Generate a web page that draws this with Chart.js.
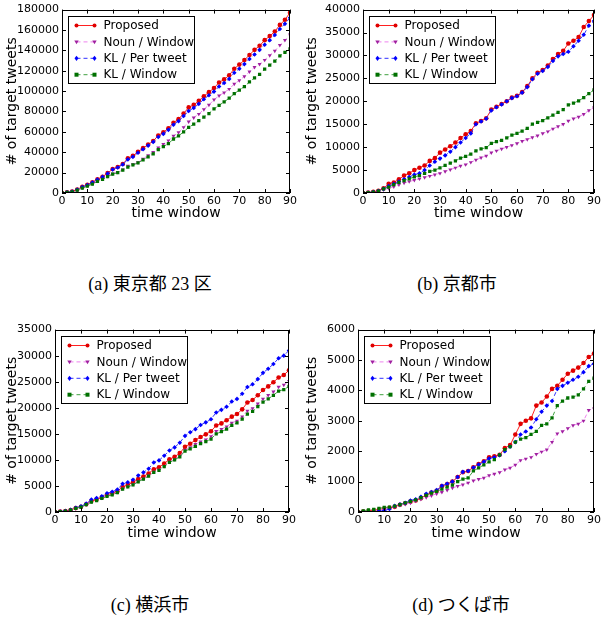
<!DOCTYPE html>
<html>
<head>
<meta charset="utf-8">
<title>target tweets</title>
<script src="https://cdn.jsdelivr.net/npm/chart.js@4/dist/chart.umd.min.js"></script>
<style>
  body { margin: 0; background: #fff; }
  #wrap { position: relative; width: 603px; height: 617px; }
  canvas { position: absolute; }
  .cap { position: absolute; width: 300px; text-align: center; font-family: "Liberation Serif", "Noto Sans CJK JP", serif; font-size: 18px; color: #000; }
</style>
</head>
<body>
<div id="wrap">
  <canvas id="ca" style="left:0px;top:0px" width="300" height="225"></canvas>
  <canvas id="cb" style="left:300px;top:0px" width="303" height="225"></canvas>
  <canvas id="cc" style="left:0px;top:320px" width="300" height="225"></canvas>
  <canvas id="cd" style="left:300px;top:320px" width="303" height="225"></canvas>
  <div class="cap" style="left:0px;top:269px">(a) 東京都 23 区</div>
  <div class="cap" style="left:307px;top:269px">(b) 京都市</div>
  <div class="cap" style="left:0px;top:590px">(c) 横浜市</div>
  <div class="cap" style="left:311px;top:590px">(d) つくば市</div>
</div>

<script>
// time windows (every 2nd window)
var xs = [0,2,4,6,8,10,12,14,16,18,20,22,24,26,28,30,32,34,36,38,40,42,44,46,48,50,52,54,56,58,60,62,64,66,68,70,72,74,76,78,80,82,84,86,88,90];

var seriesNames = ["Proposed", "Noun / Window", "KL / Per tweet", "KL / Window"];

// (a) 東京都 23 区
var aProposed = [0,800,1500,3500,6000,8000,10500,13500,16000,19500,23500,25500,28500,34000,36500,40500,44000,47500,51000,56500,59500,63500,69000,72500,78000,84000,86500,90500,95000,99000,103000,108500,111500,115500,122000,126000,130500,135500,140500,144500,150000,154000,158500,165000,170000,177000];
var aNoun = [0,600,1200,3000,5200,7200,9200,11800,13800,16500,19000,20500,23000,26500,28000,30000,33500,37000,40000,44500,48000,51500,56000,59500,64500,70000,74000,77500,82000,86500,91500,95500,98500,102000,107000,110500,114500,119000,123500,126500,130500,135000,139500,145000,150000,155500];
var aKLTweet = [0,700,1400,3300,5800,7800,10300,13300,15800,19000,23000,25000,28000,33000,35500,39500,43000,46500,50000,55000,58000,62000,67000,70500,75500,80500,83500,87500,92000,96000,99500,104500,108000,112000,118000,122000,126500,131500,136000,140500,145500,150000,155000,161000,166000,172000];
var aKLWindow = [0,600,1200,2800,4800,6800,8800,11300,13300,16000,18500,20000,22500,25500,27500,29500,32500,35500,38500,42500,45500,48500,53000,56000,60000,64500,67500,71000,74500,78000,82500,86000,89500,93000,97500,101000,104500,109000,113000,116500,121500,125500,129500,134500,138000,141500];

// (b) 京都市
var bProposed = [0,100,250,500,1000,2000,2300,3000,3800,4300,5000,5500,6000,7000,7600,8800,9500,10200,11000,12000,12800,13500,15200,15700,16300,18200,18800,19400,20000,20800,21200,22000,23300,25000,26200,26800,27800,29200,30300,31000,32600,33200,34000,36200,37500,38800];
var bNoun = [0,60,150,350,700,1000,1400,1800,2200,2500,2800,3100,3400,3700,4000,4300,4700,5100,5500,5900,6200,6700,7200,7700,8100,8800,9200,9600,10000,10400,10800,11300,11700,12100,12500,13000,13400,14000,14500,15000,15700,16200,16600,17200,18000,18600];
var bKLTweet = [0,80,200,450,900,1500,2000,2500,3000,3500,4000,4300,5000,6000,6800,7500,8200,9000,10000,11000,12000,13000,15000,15600,16200,18000,18700,19300,20000,20700,21100,21900,23100,24800,26000,26600,27500,28800,29800,30300,30800,32000,33200,34500,36500,37500];
var bKLWindow = [0,80,200,400,900,1300,1800,2300,2700,3100,3500,3800,4300,4700,5000,5500,6000,6500,7000,7600,8000,8500,9200,9600,9900,10800,11200,11500,12000,12600,13000,13500,14100,15000,15400,15800,16400,17000,17600,18200,19200,19600,20100,20800,21700,22500];

// (c) 横浜市
var cProposed = [0,70,180,380,750,1000,1500,2100,2400,2800,3300,3600,4000,4800,5200,5700,6300,6800,7400,8200,8600,9300,10100,10600,11300,12500,13100,13800,14400,14900,15500,16600,17000,17600,18300,18800,19700,21000,21500,22400,23400,24100,24900,25800,26300,27200];
var cNoun = [0,60,160,350,700,950,1400,2000,2300,2700,3100,3400,3800,4500,4900,5300,5900,6400,7000,7700,8100,8800,9600,10100,10700,11900,12400,13000,13500,13900,14500,15500,15900,16400,17100,17500,18300,19400,19900,20800,21700,22400,23100,24000,24400,25100];
var cKLTweet = [0,80,200,400,800,1100,1600,2400,2700,3000,3600,3900,4300,5400,5700,6200,7000,7600,8300,9500,9900,10800,11800,12400,13300,14600,15300,15900,16700,17200,17800,19100,19600,20200,21200,21700,22700,24000,24500,25500,26700,27500,28400,29500,30000,31000];
var cKLWindow = [0,60,160,350,700,950,1400,1900,2200,2600,3000,3300,3700,4400,4800,5200,5800,6300,6900,7600,8000,8700,9500,10000,10600,11700,12100,12600,13100,13500,14000,15000,15400,15900,16600,17100,17800,18800,19300,20200,21100,21700,22400,23200,23500,24100];

// (d) つくば市
var dProposed = [0,15,30,50,80,110,140,170,240,290,340,380,450,560,640,700,850,920,1000,1150,1310,1350,1470,1580,1670,1800,1830,1880,2100,2200,2550,2900,3000,3080,3500,3600,3800,4050,4150,4350,4550,4650,4750,4900,5100,5210];
var dNoun = [0,20,40,60,80,100,130,170,220,260,300,360,420,480,540,600,650,720,790,850,900,960,1030,1080,1120,1200,1250,1300,1390,1450,1550,1700,1750,1800,1900,1980,2050,2300,2580,2650,2750,2850,2900,3000,3350,3400];
var dKLTweet = [0,10,15,20,30,40,100,200,250,300,380,420,500,600,660,720,860,930,1000,1150,1320,1350,1460,1560,1650,1760,1800,1870,2000,2150,2300,2550,2650,2780,3050,3300,3500,3650,4050,4150,4250,4350,4450,4600,4800,4880];
var dKLWindow = [0,40,70,90,120,150,160,190,240,300,350,400,470,550,620,680,750,820,880,1000,1080,1120,1350,1450,1550,1650,1720,1880,2050,2150,2300,2400,2450,2550,2650,2850,2900,3100,3500,3650,3750,3780,3850,4050,4300,4400];

// axis limits and tick steps per panel
var yMax = [180000, 40000, 35000, 6000];
var yStep = [20000, 5000, 5000, 1000];
var xMax = 90;
var xStep = 10;

var styles = [
  { line: "#ff2020", point: "#e00000", shape: "circle", rot: 0, dash: [] },
  { line: "#ee82ee", point: "#a020a0", shape: "triangle", rot: 180, dash: [4, 3] },
  { line: "#3030ff", point: "#0000ff", shape: "rectRot", rot: 0, dash: [4, 3] },
  { line: "#40a040", point: "#007000", shape: "rect", rot: 0, dash: [4, 3] }
];

var FONT = "'DejaVu Sans', 'Bitstream Vera Sans', sans-serif";

function marker(ctx, shape, x, y, r) {
  ctx.beginPath();
  if (shape === "circle") {
    ctx.arc(x, y, r, 0, Math.PI * 2);
  } else if (shape === "triangle") {
    ctx.moveTo(x - r * 1.1, y - r * 0.7);
    ctx.lineTo(x + r * 1.1, y - r * 0.7);
    ctx.lineTo(x, y + r * 1.2);
    ctx.closePath();
  } else if (shape === "rectRot") {
    ctx.moveTo(x, y - r * 1.3);
    ctx.lineTo(x + r, y);
    ctx.lineTo(x, y + r * 1.3);
    ctx.lineTo(x - r, y);
    ctx.closePath();
  } else {
    ctx.rect(x - r, y - r, r * 2, r * 2);
  }
  ctx.fill();
}

// frame, inward ticks on all four sides, and a matplotlib style legend box
var framePlugin = {
  id: "frame",
  afterDraw: function (chart) {
    var ctx = chart.ctx, a = chart.chartArea;
    var sx = chart.scales.x, sy = chart.scales.y;
    ctx.save();
    ctx.strokeStyle = "#000";
    ctx.lineWidth = 1;
    ctx.setLineDash([]);
    sx.ticks.forEach(function (t) {
      var px = Math.round(sx.getPixelForValue(t.value)) + 0.5;
      ctx.beginPath();
      ctx.moveTo(px, a.bottom); ctx.lineTo(px, a.bottom - 4);
      ctx.moveTo(px, a.top); ctx.lineTo(px, a.top + 4);
      ctx.stroke();
    });
    sy.ticks.forEach(function (t) {
      var py = Math.round(sy.getPixelForValue(t.value)) + 0.5;
      ctx.beginPath();
      ctx.moveTo(a.left, py); ctx.lineTo(a.left + 4, py);
      ctx.moveTo(a.right, py); ctx.lineTo(a.right - 4, py);
      ctx.stroke();
    });
    ctx.strokeRect(Math.round(a.left) + 0.5, Math.round(a.top) + 0.5,
      Math.round(a.right - a.left) - 1, Math.round(a.bottom - a.top) - 1);

    // legend
    var lx = Math.round(a.left) + 6.5, ly = Math.round(a.top) + 6.5;
    var lw = 126, lh = 67;
    ctx.fillStyle = "#fff";
    ctx.fillRect(lx, ly, lw, lh);
    ctx.strokeStyle = "#000";
    ctx.strokeRect(lx, ly, lw, lh);
    ctx.font = "12px " + FONT;
    ctx.textBaseline = "middle";
    chart.data.datasets.forEach(function (ds, i) {
      var st = styles[i];
      var ry = ly + 9 + i * 16.4;
      ctx.strokeStyle = st.line;
      ctx.setLineDash(st.dash);
      ctx.beginPath();
      ctx.moveTo(lx + 8, ry); ctx.lineTo(lx + 26, ry);
      ctx.stroke();
      ctx.setLineDash([]);
      ctx.fillStyle = st.point;
      marker(ctx, st.shape, lx + 8, ry, 2);
      marker(ctx, st.shape, lx + 26, ry, 2);
      ctx.fillStyle = "#000";
      ctx.fillText(ds.label, lx + 35, ry + 0.5);
    });
    ctx.restore();
  }
};

function makeChart(id, idx, series, leftW, padRight, bottomH) {
  var datasets = series.map(function (vals, i) {
    var st = styles[i];
    return {
      label: seriesNames[i],
      data: xs.map(function (x, k) { return { x: x, y: vals[k] }; }),
      borderColor: st.line,
      borderWidth: 1,
      borderDash: st.dash,
      pointStyle: st.shape,
      pointRotation: st.rot,
      pointRadius: 2.3,
      pointBackgroundColor: st.point,
      pointBorderColor: st.point,
      pointBorderWidth: 0,
      tension: 0,
      fill: false,
      order: 4 - i
    };
  });
  return new Chart(document.getElementById(id).getContext("2d"), {
    type: "line",
    data: { datasets: datasets },
    options: {
      responsive: false,
      animation: false,
      layout: { padding: { top: 9, right: padRight, left: 0, bottom: 0 } },
      plugins: { legend: { display: false }, tooltip: { enabled: false } },
      scales: {
        x: {
          type: "linear",
          min: 0, max: xMax,
          afterFit: function (s) { s.height = bottomH; },
          grid: { display: false, drawTicks: false, tickLength: 0 },
          border: { display: false },
          ticks: { stepSize: xStep, padding: 2, color: "#000", font: { family: FONT, size: 11 }, maxRotation: 0 },
          title: { display: true, text: "time window", color: "#000", font: { family: FONT, size: 14 }, padding: { top: 0, bottom: 3 } }
        },
        y: {
          min: 0, max: yMax[idx],
          afterFit: function (s) { s.width = leftW; },
          grid: { display: false, drawTicks: false, tickLength: 0 },
          border: { display: false },
          ticks: { stepSize: yStep[idx], padding: 3, color: "#000", font: { family: FONT, size: 11 },
            callback: function (v) { return String(v); } },
          title: { display: true, text: "# of target tweets", color: "#000", font: { family: FONT, size: 14 }, padding: { top: 4, bottom: 0 } }
        }
      }
    },
    plugins: [framePlugin]
  });
}

makeChart("ca", 0, [aProposed, aNoun, aKLTweet, aKLWindow], 62, 10, 32);
makeChart("cb", 1, [bProposed, bNoun, bKLTweet, bKLWindow], 63, 6, 32);
makeChart("cc", 2, [cProposed, cNoun, cKLTweet, cKLWindow], 55, 11, 33);
makeChart("cd", 3, [dProposed, dNoun, dKLTweet, dKLWindow], 58, 6, 33);
</script>
</body>
</html>
